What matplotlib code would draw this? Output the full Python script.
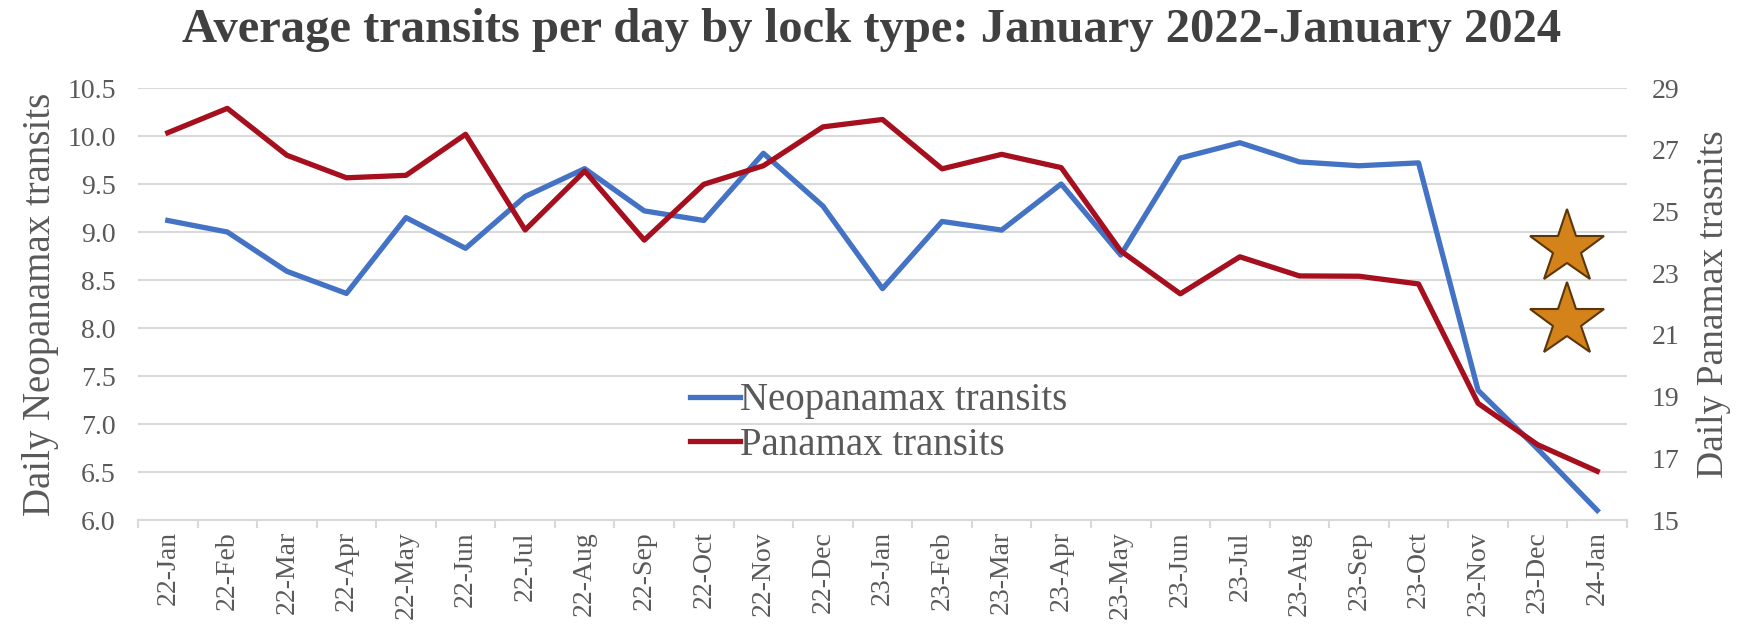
import matplotlib
matplotlib.use("Agg")
import matplotlib.pyplot as plt
import numpy as np

plt.rcParams['font.family'] = ['Liberation Serif', 'DejaVu Serif']

# Month labels as shown on the x axis
months = ['22-Jan', '22-Feb', '22-Mar', '22-Apr', '22-May', '22-Jun', '22-Jul',
          '22-Aug', '22-Sep', '22-Oct', '22-Nov', '22-Dec', '23-Jan', '23-Feb',
          '23-Mar', '23-Apr', '23-May', '23-Jun', '23-Jul', '23-Aug', '23-Sep',
          '23-Oct', '23-Nov', '23-Dec', '24-Jan']

# Daily Neopanamax transits (left axis)
neopanamax = [9.12, 9.00, 8.59, 8.36, 9.15, 8.83, 9.37, 9.66, 9.22, 9.12,
              9.82, 9.27, 8.41, 9.11, 9.02, 9.50, 8.76, 9.77, 9.93, 9.73,
              9.69, 9.72, 7.35, 6.74, 6.10]

# Daily Panamax transits (right axis)
panamax = [27.55, 28.34, 26.82, 26.09, 26.17, 27.50, 24.40, 26.31, 24.07, 25.88,
           26.48, 27.74, 27.98, 26.38, 26.85, 26.42, 23.72, 22.33, 23.53, 22.91,
           22.90, 22.65, 18.78, 17.44, 16.58]

left_ticks = [6.0, 6.5, 7.0, 7.5, 8.0, 8.5, 9.0, 9.5, 10.0, 10.5]
right_ticks = [15, 17, 19, 21, 23, 25, 27, 29]

blue = '#4472C4'
red = '#A50F1E'
text_gray = '#595959'
grid_gray = '#D9D9D9'

W, H = 1751, 627
fig = plt.figure(figsize=(W / 100, H / 100), dpi=100)
ax = fig.add_axes([138 / W, 107 / H, 1489 / W, 432 / H])
ax2 = ax.twinx()

x = np.arange(len(months))
l1, = ax.plot(x, neopanamax, color=blue, lw=3.8, label='Neopanamax transits', zorder=3)
l2, = ax2.plot(x, panamax, color=red, lw=3.8, label='Panamax transits', zorder=3)

ax.set_xlim(-0.5, len(months) - 0.5)
ax.set_ylim(6.0, 10.5)
ax2.set_ylim(15, 29)
ax.set_yticks(left_ticks)
ax.set_yticklabels([f'{v:.1f}' for v in left_ticks])
ax2.set_yticks(right_ticks)

ax.set_xticks(x)
ax.set_xticklabels(months, rotation=90)
ax.set_xticks(np.arange(-0.5, len(months), 1), minor=True)
ax.tick_params(axis='x', which='major', length=0, pad=8, labelsize=20, labelcolor=text_gray)
ax.tick_params(axis='x', which='minor', length=6, color=grid_gray, width=1.5)
ax.tick_params(axis='y', length=0, pad=16, labelsize=20, labelcolor=text_gray)
ax2.tick_params(axis='y', length=0, pad=18, labelsize=20, labelcolor=text_gray)

ax.grid(axis='y', color=grid_gray, lw=1.5)
ax.set_axisbelow(True)
for a in (ax, ax2):
    for side in ('left', 'right', 'top', 'bottom'):
        a.spines[side].set_visible(False)
ax.spines['bottom'].set_visible(True)
ax.spines['bottom'].set_color(grid_gray)
ax.spines['bottom'].set_linewidth(1.5)

ax.set_ylabel('Daily Neopanamax transits', fontsize=28, color=text_gray, labelpad=6)
ax2.set_ylabel('Daily Panamax trasnits', fontsize=27, color=text_gray, labelpad=12)

fig.text(872 / W, 1 - 30 / H, 'Average transits per day by lock type: January 2022-January 2024',
         ha='center', va='center', fontsize=35, fontweight='bold', color='#404040')

leg = ax2.legend(handles=[l1, l2], loc='upper left', bbox_to_anchor=(0.36, 0.355),
                 frameon=False, fontsize=28, handlelength=1.3, handletextpad=0.0,
                 labelspacing=0.2, borderaxespad=0)
for t in leg.get_texts():
    t.set_color(text_gray)

# decorative stars on the right
for sy in (0.63, 0.46):
    ax2.plot([0.96], [sy], marker='*', markersize=56, color='#D4821A',
             markeredgecolor='#5A3608', markeredgewidth=1.5, transform=ax2.transAxes,
             clip_on=False, zorder=5)

fig.savefig('out.png', dpi=100)
